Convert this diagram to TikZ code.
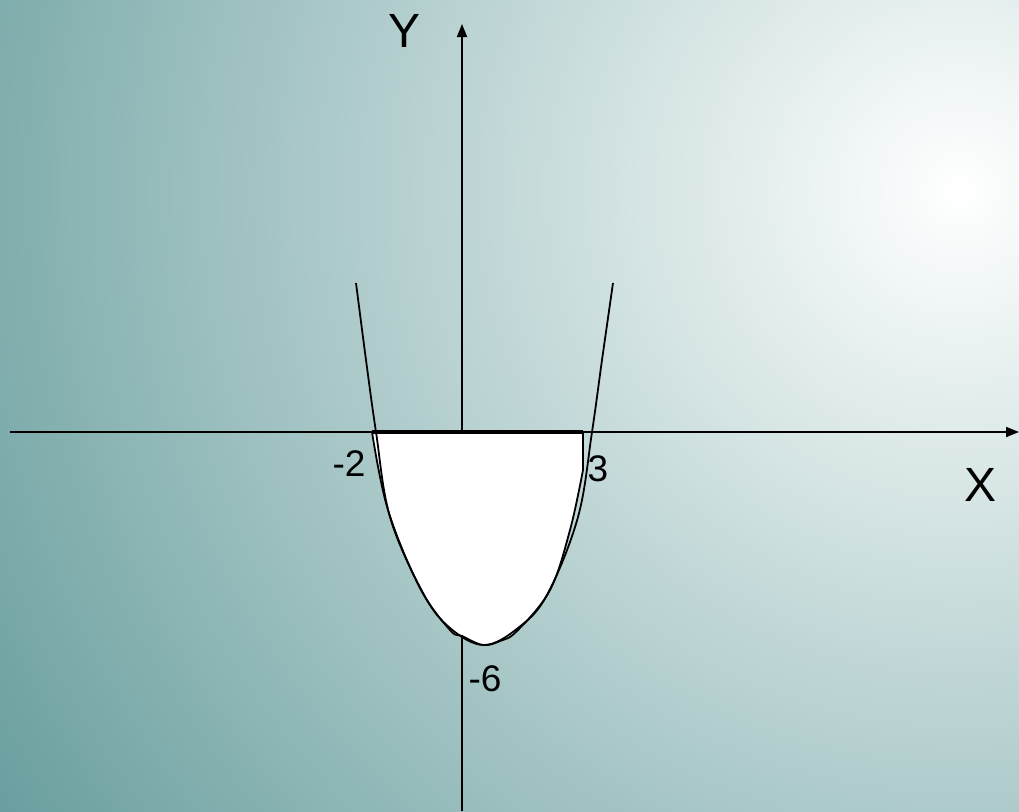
\documentclass[tikz,border=0pt]{standalone}
\usepackage{fontspec}
\setmainfont{Liberation Sans}
\usetikzlibrary{arrows.meta}
\definecolor{bgteal}{RGB}{105,158,158}

\begin{document}
\begin{tikzpicture}[x=1pt, y=-1pt, every node/.style={inner sep=0pt,font=\fontsize{37}{37}\selectfont}, axis/.style={line width=1.8pt,-{Triangle[length=13pt,width=10pt]}}, curve/.style={line width=1.8pt,line join=round}]

% Background glow
\useasboundingbox (0,0) rectangle (1019,811);
\begin{scope}
\clip (0,0) rectangle (1019,811);
\shade[inner color=white, outer color=bgteal] (960,190) circle (1150pt);
\end{scope}

% Axis end points
\coordinate (xl) at (10,432);
\coordinate (xr) at (1019,432);
\coordinate (yb) at (462,811);
\coordinate (yt) at (462,24);

\draw[axis] (xl) -- (xr);
\draw[axis] (yb) -- (yt);

% Region under the axis
\filldraw[fill=white, curve] plot[smooth, tension=0.6] coordinates {(372,432) (388,510) (420,588) (450,630) (462,636) (483,645) (500,641) (517,631) (550,590) (570,530) (583,470)} -- (583,432) -- cycle;
\draw[line width=4pt] (372,432) -- (583,432);

% Parabola
\draw[curve] plot[smooth, tension=0.6] coordinates {(356,283) (366,360) (376,432) (390,517) (423,593) (450,628) (484,645) (518,628) (547,595) (578,517) (592,432) (602,360) (613,283)};

% Labels
\node[font=\fontsize{48}{48}\selectfont] (ylab) at (405,31) {Y};
\node[font=\fontsize{48}{48}\selectfont] (xlab) at (980,485) {X};
\node (m2) at (349,464) {-2};
\node (p3) at (598,469) {3};
\node (m6) at (485,679) {-6};
\end{tikzpicture}
\end{document}
